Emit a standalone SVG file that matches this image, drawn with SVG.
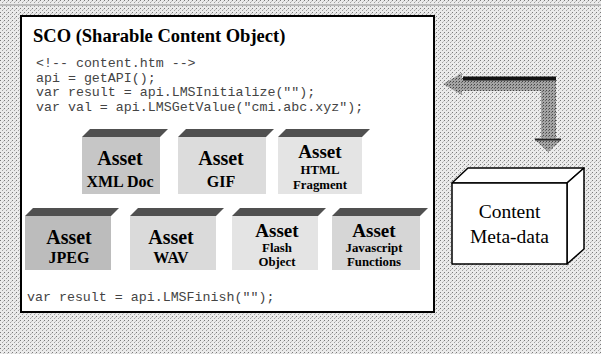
<svg xmlns="http://www.w3.org/2000/svg" width="601" height="354" viewBox="0 0 601 354">
<defs>
<pattern id="dither" width="4" height="4" patternUnits="userSpaceOnUse">
<rect width="4" height="4" fill="#ebebeb"/>
<rect x="0" y="0" width="1" height="1" fill="#7a7a7a"/>
<rect x="2" y="2" width="1" height="1" fill="#a0a0a0"/>
<rect x="3" y="1" width="1" height="1" fill="#c4c4c4"/>
</pattern>
<pattern id="dither2" width="3" height="3" patternUnits="userSpaceOnUse">
<rect width="3" height="3" fill="#a4a4a4"/>
<rect x="0" y="0" width="1" height="1" fill="#444"/>
<rect x="2" y="1" width="1" height="1" fill="#6a6a6a"/>
</pattern>
<style>
.title{font-family:"Liberation Serif","Times New Roman",serif;font-weight:bold;font-size:18.5px;fill:#000}
.code{font-family:"Liberation Mono","Courier New",monospace;font-size:13.3px;fill:#444}
.a1{font-family:"Liberation Serif","Times New Roman",serif;font-weight:bold;font-size:20px;fill:#000;text-anchor:middle}
.a1s{font-family:"Liberation Serif","Times New Roman",serif;font-weight:bold;font-size:19px;fill:#000;text-anchor:middle}
.a2{font-family:"Liberation Serif","Times New Roman",serif;font-weight:bold;font-size:16px;fill:#000;text-anchor:middle}
.a3{font-family:"Liberation Serif","Times New Roman",serif;font-weight:bold;font-size:12.8px;fill:#000;text-anchor:middle}
.meta{font-family:"Liberation Serif","Times New Roman",serif;font-size:19.5px;fill:#000;text-anchor:middle}
.slab{fill:#505050}
.box3d{fill:#fff;stroke:#000;stroke-width:1.5;stroke-linejoin:round}
</style>
</defs>
<rect width="601" height="354" fill="url(#dither)"/>
<rect x="0" y="4" width="601" height="2" fill="#bbb"/>

<g id="sco">
<rect x="21" y="16" width="413" height="296" fill="#fff" stroke="#000" stroke-width="2"/>
<text class="title" x="33" y="42">SCO (Sharable Content Object)</text>
<text class="code" x="36" y="67">&lt;!-- content.htm --&gt;</text>
<text class="code" x="36" y="81.5">api = getAPI();</text>
<text class="code" x="36" y="96">var result = api.LMSInitialize("");</text>
<text class="code" x="36" y="110.5">var val = api.LMSGetValue("cmi.abc.xyz");</text>
<text class="code" x="27" y="301">var result = api.LMSFinish("");</text>
</g>

<g id="asset-xml">
<rect x="82" y="137" width="78" height="57" fill="#c6c6c6"/>
<polygon class="slab" points="82,137 90,129 168,129 160,137"/>
<text class="a1" x="120" y="165">Asset</text>
<text class="a2" x="120" y="187">XML Doc</text>
</g>
<g id="asset-gif">
<rect x="178" y="137" width="88" height="57" fill="#dcdcdc"/>
<polygon class="slab" points="178,137 186,129 274,129 266,137"/>
<text class="a1" x="221" y="165">Asset</text>
<text class="a2" x="221" y="187">GIF</text>
</g>
<g id="asset-html">
<rect x="278" y="137" width="84" height="57" fill="#e4e4e4"/>
<polygon class="slab" points="278,137 286,129 370,129 362,137"/>
<text class="a1s" x="320" y="157.5">Asset</text>
<text class="a3" x="320" y="174">HTML</text>
<text class="a3" x="320" y="188.5">Fragment</text>
</g>

<g id="asset-jpeg">
<rect x="25" y="216" width="86" height="54" fill="#bcbcbc"/>
<polygon class="slab" points="25,216 33,208 119,208 111,216"/>
<text class="a1" x="69" y="244">Asset</text>
<text class="a2" x="69" y="263">JPEG</text>
</g>
<g id="asset-wav">
<rect x="130" y="216" width="86" height="54" fill="#dadada"/>
<polygon class="slab" points="130,216 138,208 224,208 216,216"/>
<text class="a1" x="171" y="244">Asset</text>
<text class="a2" x="171" y="263">WAV</text>
</g>
<g id="asset-flash">
<rect x="232" y="216" width="86" height="54" fill="#e4e4e4"/>
<polygon class="slab" points="232,216 240,208 326,208 318,216"/>
<text class="a1s" x="277" y="236.5">Asset</text>
<text class="a3" x="277" y="252">Flash</text>
<text class="a3" x="277" y="266.3">Object</text>
</g>
<g id="asset-js">
<rect x="332" y="216" width="88" height="54" fill="#d6d6d6"/>
<polygon class="slab" points="332,216 340,208 428,208 420,216"/>
<text class="a1s" x="374" y="236.5">Asset</text>
<text class="a3" x="374" y="252">Javascript</text>
<text class="a3" x="374" y="266.3">Functions</text>
</g>

<g id="content-metadata">
<polygon class="box3d" points="452,183 468,168 584,168 567,183"/>
<polygon class="box3d" points="567,183 584,168 584,249 567,264"/>
<rect class="box3d" x="452" y="183" width="115" height="81"/>
<text class="meta" x="509.5" y="218">Content</text>
<text class="meta" x="509.5" y="243">Meta-data</text>
</g>

<g id="connectors">
<polygon points="462,78 556,78 556,138 541,138 541,91 462,91" fill="url(#dither2)"/>
<polygon points="462,73 443,84 462,95" fill="url(#dither2)"/>
<polygon points="534,139 562,139 548,152" fill="url(#dither2)"/>
<line x1="463" y1="78.5" x2="556" y2="78.5" stroke="#111" stroke-width="4"/>
<line x1="535" y1="139.5" x2="561" y2="139.5" stroke="#222" stroke-width="2"/>
</g>
</svg>
